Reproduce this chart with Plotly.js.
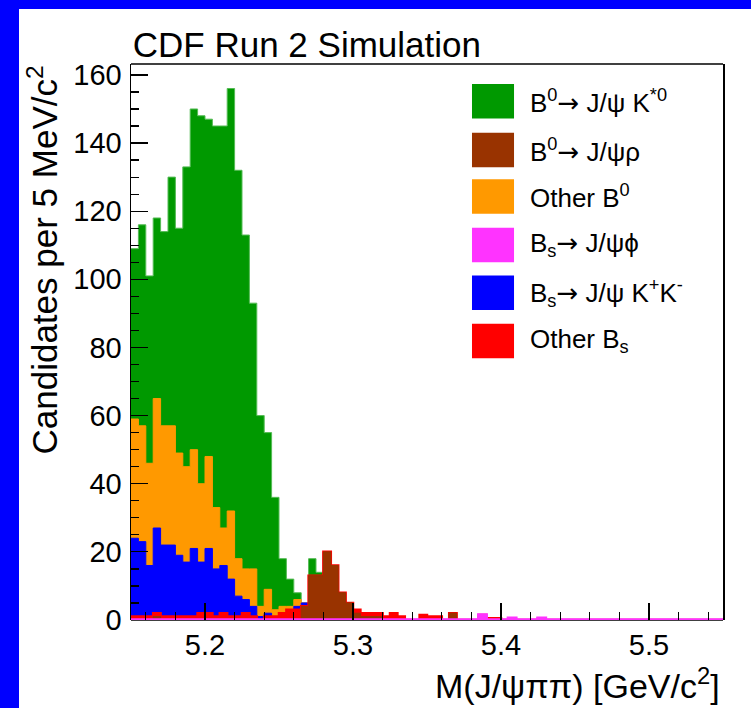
<!DOCTYPE html>
<html>
<head>
<meta charset="utf-8">
<script src="https://cdn.plot.ly/plotly-3.0.1.min.js"></script>
<style>
  html, body { margin: 0; padding: 0; background: #0000ff; width: 751px; height: 708px; overflow: hidden; }
  #chart { position: absolute; left: 19px; top: 9px; width: 732px; height: 699px; background: #ffffff; }
</style>
</head>
<body>
<div id="chart"></div>
<script>
// M(J/psi pi pi) candidates per 5 MeV/c^2 bin, 80 bins from 5.15 to 5.55 GeV/c^2
const binLow = 5.15;
const binWidth = 0.005;

// per-component candidate counts
const b0KstarCounts = [
  50, 59, 55, 53, 57, 73, 66, 88, 100, 108, 99, 112, 118, 124, 114, 98, 78, 56, 46, 33,
  14, 8, 2, 0, 5, 1, 0, 0, 0, 0, 0, 0, 0, 0, 0, 0, 0, 0, 0, 0,
  0, 0, 0, 0, 0, 0, 0, 0, 0, 0, 0, 0, 0, 0, 0, 0, 0, 0, 0, 0,
  0, 0, 0, 0, 0, 0, 0, 0, 0, 0, 0, 0, 0, 0, 0, 0, 0, 0, 0, 0
];
const b0RhoCounts = [
  0, 0, 0, 1, 0, 0, 0, 0, 0, 0, 0, 0, 0, 0, 0, 0, 0, 0, 0, 0,
  0, 0, 0, 4, 13, 13, 20, 16, 8, 5, 2, 1, 1, 1, 0, 0, 0, 0, 0, 0,
  0, 0, 0, 2, 0, 0, 0, 0, 0, 0, 0, 0, 0, 0, 0, 0, 0, 0, 0, 0,
  0, 0, 0, 0, 0, 0, 0, 0, 0, 0, 0, 0, 0, 0, 0, 0, 0, 0, 0, 0
];
const otherB0Counts = [
  35, 34, 30, 38, 35, 35, 30, 28, 29, 23, 27, 18, 11, 20, 11, 9, 11, 3, 7, 2,
  2, 1, 2, 0, 0, 0, 0, 0, 0, 0, 0, 0, 0, 0, 0, 0, 0, 0, 0, 0,
  0, 0, 0, 0, 0, 0, 0, 0, 0, 0, 0, 0, 0, 0, 0, 0, 0, 0, 0, 0,
  0, 0, 0, 0, 0, 0, 0, 0, 0, 0, 0, 0, 0, 0, 0, 0, 0, 0, 0, 0
];
const bsPhiCounts = [
  0, 0, 0, 0, 0, 0, 0, 0, 0, 0, 0, 0, 0, 0, 0, 0, 0, 0, 0, 0,
  0, 0, 0, 0, 0, 0, 0, 0, 0, 0, 0, 0, 0, 0, 0, 0, 0, 0, 0, 0,
  0, 0, 0, 0, 0, 0, 0, 1.5, 0, 0, 0, 0.5, 0, 0, 0, 0.5, 0, 0, 0, 0,
  0, 0, 0, 0, 0, 0, 0, 0, 0, 0, 0, 0, 0, 0, 0, 0, 0, 0, 0, 0
];
const bsKKCounts = [
  23, 22, 15, 25, 21, 21, 18, 16, 20, 15, 19, 14, 14, 11, 6, 4, 3, 1, 1, 0,
  0, 0, 1, 1, 0, 0, 0, 0, 0, 0, 0, 0, 0, 0, 0, 0, 0, 0, 0, 0,
  0, 0, 0, 0, 0, 0, 0, 0, 0, 0, 0, 0, 0, 0, 0, 0, 0, 0, 0, 0,
  0, 0, 0, 0, 0, 0, 0, 0, 0, 0, 0, 0, 0, 0, 0, 0, 0, 0, 0, 0
];
const otherBsCounts = [
  1, 1, 1, 1, 1, 1, 1, 1, 1, 2, 2, 1, 2, 1, 1, 2, 1, 0, 1, 1,
  2, 3, 3, 0, 0, 0, 0, 0, 0, 0, 1, 1, 1, 1, 1, 2, 1, 0, 0, 1.5,
  1, 1, 0, 0, 0, 0, 0, 0, 0.5, 0.5, 0, 0, 0, 0, 0, 0, 0, 0, 0, 0,
  0, 0, 0, 0, 0, 0, 0, 0, 0, 0, 0, 0, 0, 0, 0, 0, 0, 0, 0, 0
];

// legend labels (arrow set in DejaVu Sans for a full-width glyph)
const arrow = '<span style="font-family:\'DejaVu Sans\'">\u2192</span>';
const labelB0Kstar = 'B<sup>0</sup>' + arrow + ' J/\u03c8 K<sup>*0</sup>';
const labelB0Rho = 'B<sup>0</sup>' + arrow + ' J/\u03c8\u03c1';
const labelOtherB0 = 'Other B<sup>0</sup>';
const labelBsPhi = 'B<sub>s</sub>' + arrow + ' J/\u03c8\u03d5';
const labelBsKK = 'B<sub>s</sub>' + arrow + ' J/\u03c8 K<sup>+</sup>K<sup>-</sup>';
const labelOtherBs = 'Other B<sub>s</sub>';

// axis tick values
const xTickValues = [5.2, 5.3, 5.4, 5.5];
const xTickLabels = ['5.2', '5.3', '5.4', '5.5'];
const yTickValues = [0, 20, 40, 60, 80, 100, 120, 140, 160];

// stack, bottom layer first
const stack = [
  { counts: bsPhiCounts,   label: labelBsPhi,   fill: '#ff33ff', line: '#ff33ff', lw: 3.5 },
  { counts: b0RhoCounts,   label: labelB0Rho,   fill: '#993300', line: '#993300', lw: 1 },
  { counts: otherBsCounts, label: labelOtherBs, fill: '#ff0000', line: '#ff0000', lw: 2.5 },
  { counts: bsKKCounts,    label: labelBsKK,    fill: '#0000ff', line: '#0000ff', lw: 1 },
  { counts: otherB0Counts, label: labelOtherB0, fill: '#ff9900', line: '#ff9900', lw: 1 },
  { counts: b0KstarCounts, label: labelB0Kstar, fill: '#009900', line: '#55bb55', lw: 1 }
];

const nBins = b0KstarCounts.length;
const edges = [];
for (let i = 0; i <= nBins; i++) edges.push(+(binLow + i * binWidth).toFixed(4));

// cumulative heights of each layer
let running = new Array(nBins).fill(0);
stack.forEach(s => {
  running = running.map((v, i) => v + s.counts[i]);
  s.cum = running.slice();
});

// drawn from the top of the stack down, so lower layers paint over higher ones
const traces = stack.slice().reverse().map(s => ({
  type: 'scatter',
  mode: 'lines',
  x: edges,
  y: s.cum.concat([s.cum[nBins - 1]]),
  line: { shape: 'hv', color: s.line, width: s.lw },
  fill: 'tozeroy',
  fillcolor: s.fill,
  hoverinfo: 'skip',
  showlegend: false
}));

// legend drawn as large swatches with labels
const legendOrder = [labelB0Kstar, labelB0Rho, labelOtherB0, labelBsPhi, labelBsKK, labelOtherBs];
const legendRowY = [0.9329, 0.8453, 0.7617, 0.6745, 0.5885, 0.5018];
const shapes = [];
const annotations = [];
legendOrder.forEach((lab, i) => {
  const s = stack.find(t => t.label === lab);
  shapes.push({
    type: 'rect', xref: 'paper', yref: 'paper',
    x0: 0.576, x1: 0.647, y0: legendRowY[i] - 0.031, y1: legendRowY[i] + 0.031,
    fillcolor: s.fill, line: { width: 0 }, layer: 'above'
  });
  annotations.push({
    xref: 'paper', yref: 'paper', x: 0.6706, y: legendRowY[i],
    xanchor: 'left', yanchor: 'middle', showarrow: false,
    text: lab, font: { size: 26, color: '#000000' }
  });
});

// frame top edge and bottom edge
shapes.push({ type: 'line', xref: 'paper', yref: 'paper', x0: 0, x1: 1, y0: 1, y1: 1,
  line: { color: '#000000', width: 1.5 }, layer: 'above' });
shapes.push({ type: 'line', xref: 'paper', yref: 'paper', x0: 0, x1: 1, y0: 0, y1: 0,
  line: { color: '#000000', width: 1.5 }, layer: 'below' });

// axis titles
annotations.push({
  xref: 'paper', yref: 'paper', x: -0.1503, y: 1, xanchor: 'center', yanchor: 'top',
  textangle: -90, showarrow: false,
  text: 'Candidates per 5 MeV/c<sup>2</sup>', font: { size: 35, color: '#000000' }
});
annotations.push({
  xref: 'paper', yref: 'paper', x: 0.9983, y: -0.1151, xanchor: 'right', yanchor: 'middle',
  showarrow: false,
  text: 'M(J/\u03c8\u03c0\u03c0) [GeV/c<sup>2</sup>]', font: { size: 34, color: '#000000' }
});

const layout = {
  width: 732,
  height: 699,
  margin: { l: 112, r: 28, t: 55, b: 88, pad: 0 },
  paper_bgcolor: '#ffffff',
  plot_bgcolor: '#ffffff',
  font: { family: '"Liberation Sans", Arial, Helvetica, sans-serif', color: '#000000' },
  title: {
    text: 'CDF Run 2 Simulation',
    font: { size: 35, color: '#000000' },
    xref: 'paper', x: 0.003, xanchor: 'left',
    yref: 'container', y: 0.9485, yanchor: 'middle'
  },
  xaxis: {
    range: [5.15, 5.55],
    tickmode: 'array', tickvals: xTickValues, ticktext: xTickLabels,
    ticks: 'inside', ticklen: 17, tickwidth: 1.2, tickcolor: '#000000',
    tickfont: { size: 29 },
    ticklabelstandoff: 5,
    minor: { dtick: 0.02, tick0: 5.1, ticks: 'inside', ticklen: 8, tickwidth: 1.2, tickcolor: '#000000', showgrid: false },
    showgrid: false, zeroline: false, showline: false,
    fixedrange: true
  },
  yaxis: {
    range: [0, 163.2],
    tickmode: 'array', tickvals: yTickValues,
    ticks: 'inside', ticklen: 17, tickwidth: 1.2, tickcolor: '#000000',
    tickfont: { size: 29 },
    ticklabelstandoff: 2,
    minor: { dtick: 5, tick0: 0, ticks: 'inside', ticklen: 8, tickwidth: 1.2, tickcolor: '#000000', showgrid: false },
    showgrid: false, zeroline: false,
    showline: true, mirror: true, linecolor: '#000000', linewidth: 1.5,
    fixedrange: true
  },
  shapes: shapes,
  annotations: annotations,
  showlegend: false
};

Plotly.newPlot('chart', traces, layout, { displayModeBar: false, staticPlot: true });
</script>
</body>
</html>
